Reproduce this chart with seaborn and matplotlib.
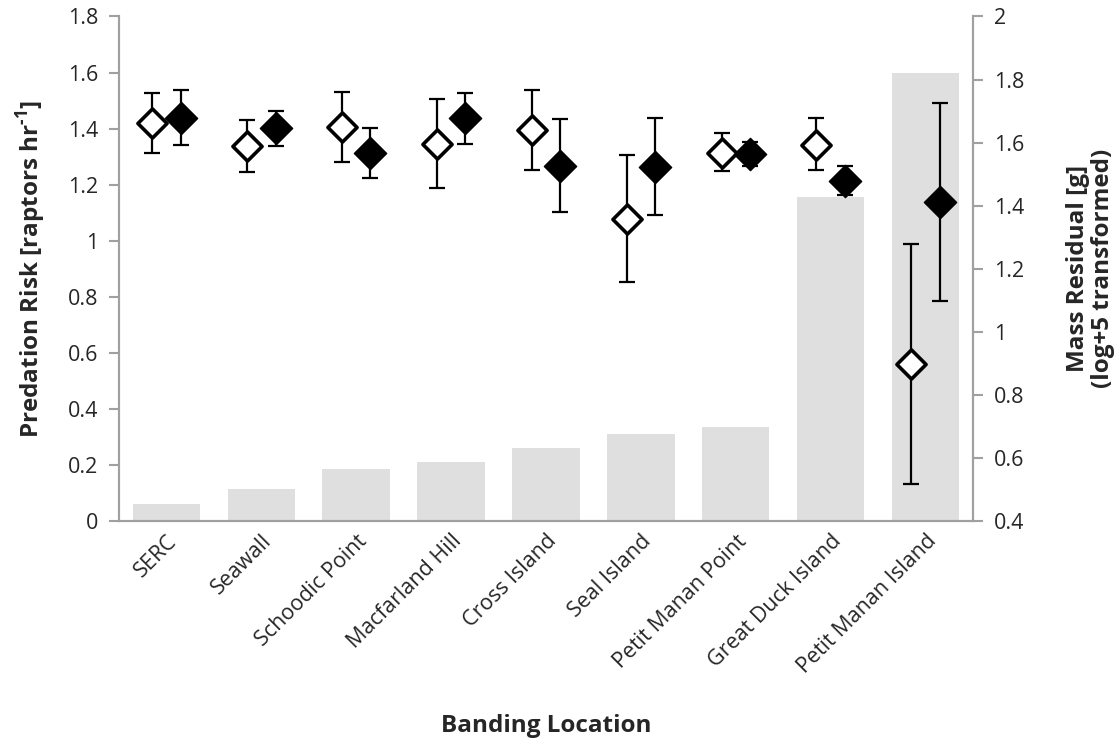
import numpy as np
import pandas as pd
import matplotlib
matplotlib.use("Agg")
import matplotlib.pyplot as plt
import seaborn as sns

# data
locations = ["SERC", "Seawall", "Schoodic Point", "Macfarland Hill", "Cross Island",
             "Seal Island", "Petit Manan Point", "Great Duck Island", "Petit Manan Island"]
risk = [0.060, 0.114, 0.184, 0.210, 0.260, 0.311, 0.337, 1.155, 1.597]

open_mean = [1.663, 1.590, 1.650, 1.597, 1.641, 1.359, 1.568, 1.593, 0.899]
open_hi = [1.756, 1.672, 1.761, 1.739, 1.767, 1.560, 1.632, 1.679, 1.280]
open_lo = [1.568, 1.506, 1.540, 1.457, 1.513, 1.157, 1.509, 1.512, 0.517]

filled_mean = [1.679, 1.645, 1.568, 1.678, 1.527, 1.524, 1.565, 1.479, 1.412]
filled_hi = [1.768, 1.699, 1.646, 1.758, 1.674, 1.677, 1.603, 1.525, 1.726]
filled_lo = [1.592, 1.590, 1.489, 1.596, 1.379, 1.372, 1.527, 1.435, 1.098]

sns.set_style("white")
plt.rcParams["font.family"] = ["Open Sans", "DejaVu Sans"]
plt.rcParams["axes.unicode_minus"] = False
plt.rcParams["mathtext.fontset"] = "custom"
plt.rcParams["mathtext.rm"] = "Open Sans:bold"
plt.rcParams["mathtext.bf"] = "Open Sans:bold"

df = pd.DataFrame({"Location": locations, "Risk": risk})

fig = plt.figure(figsize=(11.19, 7.43), dpi=100)
ax = fig.add_axes([0.1063, 0.2988, 0.7632, 0.6790])

sns.barplot(data=df, x="Location", y="Risk", color="#dfdfdf", saturation=1,
            width=0.71, ax=ax, zorder=1)
for p in ax.patches:
    p.set_edgecolor("none")

ax.set_xlim(-0.5, len(locations) - 0.5)
ax.set_ylim(0, 1.8)
ax.set_yticks(np.arange(0, 1.81, 0.2))
ax.set_yticklabels(["0", "0.2", "0.4", "0.6", "0.8", "1", "1.2", "1.4", "1.6", "1.8"])

gray = "#a0a0a0"
for s in ["left", "bottom", "right"]:
    ax.spines[s].set_color(gray)
    ax.spines[s].set_linewidth(1.5)
ax.spines["top"].set_visible(False)

# x ticks between categories, labels at the centres
ax.set_xticks(np.arange(-0.5, len(locations), 1.0), minor=True)
ax.tick_params(axis="x", which="minor", length=7, width=1.5, color=gray, direction="out")
ax.tick_params(axis="x", which="major", length=0, pad=7)
ax.set_xticklabels(locations, rotation=45, ha="right", rotation_mode="anchor", fontsize=15.5)
ax.tick_params(axis="y", length=7, width=1.5, color=gray, direction="out", labelsize=15.5, pad=8)
ax.tick_params(axis="both", left=True, bottom=True)

ax.set_xlabel("Banding Location", fontsize=17.5, fontweight="bold", labelpad=26)
ax.set_ylabel("Predation Risk [raptors hr$^{\\text{-1}}$]", fontsize=17.5, fontweight="bold", labelpad=14)

ax2 = ax.twinx()
ax2.set_ylim(0.4, 2.0)
ax2.set_yticks(np.arange(0.4, 2.01, 0.2))
ax2.set_yticklabels(["0.4", "0.6", "0.8", "1", "1.2", "1.4", "1.6", "1.8", "2"])
ax2.tick_params(axis="y", length=7, width=1.5, color=gray, direction="out", labelsize=15.5, pad=8)
for s in ["left", "bottom", "right"]:
    ax2.spines[s].set_color(gray)
    ax2.spines[s].set_linewidth(1.5)
ax2.spines["top"].set_visible(False)

x = np.arange(len(locations))
off = 0.15
om = np.array(open_mean)
fm = np.array(filled_mean)
ax2.errorbar(x - off, om, yerr=[om - np.array(open_lo), np.array(open_hi) - om],
             fmt="none", ecolor="black", elinewidth=1.6, capsize=5.8, capthick=1.6, zorder=2)
ax2.errorbar(x + off, fm, yerr=[fm - np.array(filled_lo), np.array(filled_hi) - fm],
             fmt="none", ecolor="black", elinewidth=1.6, capsize=5.8, capthick=1.6, zorder=2)

mk = pd.DataFrame({"x": np.concatenate([x - off, x + off]),
                   "y": np.concatenate([om, fm]),
                   "kind": ["open"] * len(x) + ["filled"] * len(x)})
sns.scatterplot(data=mk[mk.kind == "open"], x="x", y="y", marker="D", s=220,
                color="white", edgecolor="black", linewidth=2.6, ax=ax2, zorder=3, legend=False)
sns.scatterplot(data=mk[mk.kind == "filled"], x="x", y="y", marker="D", s=270,
                color="black", edgecolor="black", linewidth=1, ax=ax2, zorder=3, legend=False)
ax2.set_xlabel("")
ax2.set_ylabel("Mass Residual [g]\n(log+5 transformed)", fontsize=17.5, fontweight="bold",
               labelpad=30, linespacing=1.05)
ax.set_xlim(-0.5, len(locations) - 0.5)

fig.savefig("out.png", dpi=100)
